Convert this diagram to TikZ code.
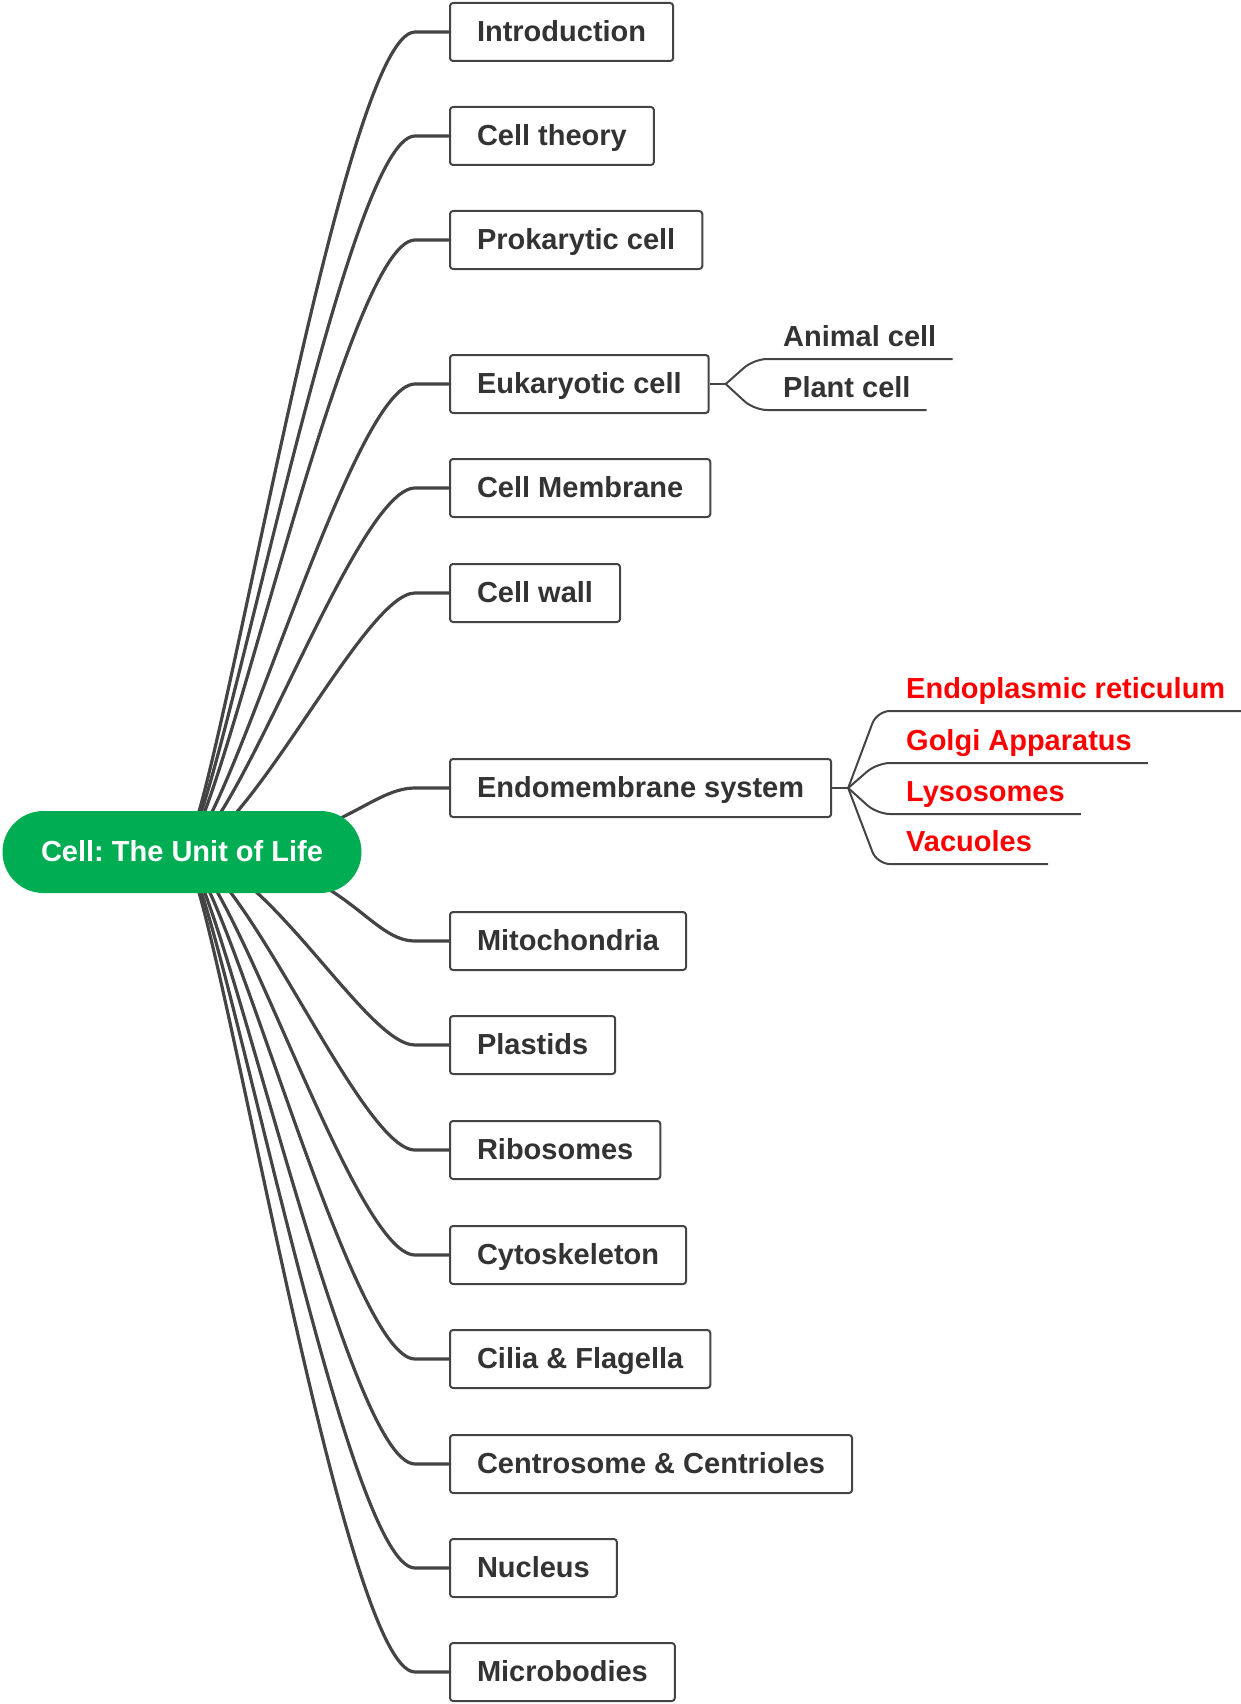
\documentclass[tikz,border=0pt]{standalone}
\usepackage{fontspec}
\setmainfont{Liberation Sans}
\usepackage{tikz}
\usetikzlibrary{positioning}
\definecolor{pillgreen}{RGB}{0,173,83}
\definecolor{linegray}{RGB}{68,68,68}
\definecolor{textgray}{RGB}{51,51,51}
\definecolor{hotred}{RGB}{255,0,0}
\pgfdeclarelayer{back}
\pgfsetlayers{back,main}
\frenchspacing

\begin{document}
\begin{tikzpicture}[x=1pt, y=1pt,
font=\fontsize{29}{34}\selectfont\bfseries,
rootnode/.style={rectangle, rounded corners=41pt, fill=pillgreen, text=white, minimum width=359pt, minimum height=82pt, inner sep=0pt, text height=22pt, text depth=3pt},
topic/.style={rectangle, rounded corners=3pt, draw=linegray, line width=2pt, fill=white, text=textgray, minimum height=58pt, inner xsep=27pt, inner ysep=0pt, text height=22pt, text depth=3pt, anchor=west},
leaf/.style={inner xsep=16pt, inner ysep=0pt, text depth=12pt, anchor=south west, text=textgray},
redleaf/.style={leaf, text=hotred},
branch/.style={draw=linegray, line width=3.2pt},
twig/.style={draw=linegray, line width=2pt, rounded corners=13pt},
]
\useasboundingbox (0,0) rectangle (1240,-1704);

%Nodes
\node[rootnode] (root) at (182,-852) {Cell: The Unit of Life};
\node[topic]    (intro)  at (449,-32)                            {Introduction};
\node[topic]    (theory) [below=104pt of intro.west, anchor=west]  {Cell theory};
\node[topic]    (prok)   [below=104pt of theory.west, anchor=west] {Prokarytic cell};
\node[topic]    (euk)    [below=144pt of prok.west, anchor=west]   {Eukaryotic cell};
\node[topic]    (memb)   [below=104pt of euk.west, anchor=west]    {Cell Membrane};
\node[topic]    (wall)   [below=105pt of memb.west, anchor=west]   {Cell wall};
\node[topic]    (endo)   [below=195pt of wall.west, anchor=west]   {Endomembrane system};
\node[topic]    (mito)   [below=153pt of endo.west, anchor=west]   {Mitochondria};
\node[topic]    (plast)  [below=104pt of mito.west, anchor=west]   {Plastids};
\node[topic]    (ribo)   [below=105pt of plast.west, anchor=west]  {Ribosomes};
\node[topic]    (cyto)   [below=105pt of ribo.west, anchor=west]   {Cytoskeleton};
\node[topic]    (cilia)  [below=104pt of cyto.west, anchor=west]   {Cilia \& Flagella};
\node[topic]    (centro) [below=105pt of cilia.west, anchor=west]  {Centrosome \& Centrioles};
\node[topic]    (nucl)   [below=104pt of centro.west, anchor=west] {Nucleus};
\node[topic]    (micro)  [below=104pt of nucl.west, anchor=west]   {Microbodies};

\coordinate[right=16pt of euk] (eukhub);
\node[leaf]     (animal) at (767,-359) {Animal cell};
\node[leaf]     (plant)  at (767,-410) {Plant cell};

\coordinate[right=16pt of endo] (endohub);
\node[redleaf]  (er)     at (890,-711) {Endoplasmic reticulum};
\node[redleaf]  (golgi)  at (890,-763) {Golgi Apparatus};
\node[redleaf]  (lyso)   at (890,-814) {Lysosomes};
\node[redleaf]  (vacu)   at (890,-864) {Vacuoles};

%Lines
\begin{pgfonlayer}{back}
\draw[branch] (root.center) .. controls +(30,0) and +(-75,0) .. ([xshift=-34pt]intro.west) -- (intro.west);
\draw[branch] (root.center) .. controls +(32,0) and +(-72,0) .. ([xshift=-34pt]theory.west) -- (theory.west);
\draw[branch] (root.center) .. controls +(35,0) and +(-70,0) .. ([xshift=-34pt]prok.west) -- (prok.west);
\draw[branch] (root.center) .. controls +(42,0) and +(-65,0) .. ([xshift=-34pt]euk.west) -- (euk.west);
\draw[branch] (root.center) .. controls +(50,0) and +(-60,0) .. ([xshift=-34pt]memb.west) -- (memb.west);
\draw[branch] (root.center) .. controls +(62,0) and +(-52,0) .. ([xshift=-34pt]wall.west) -- (wall.west);
\draw[branch] (root.center) .. controls +(150,0) and +(-48,0) .. ([xshift=-34pt]endo.west) -- (endo.west);
\draw[branch] (root.center) .. controls +(160,0) and +(-50,0) .. ([xshift=-34pt]mito.west) -- (mito.west);
\draw[branch] (root.center) .. controls +(80,0) and +(-50,0) .. ([xshift=-34pt]plast.west) -- (plast.west);
\draw[branch] (root.center) .. controls +(58,0) and +(-55,0) .. ([xshift=-34pt]ribo.west) -- (ribo.west);
\draw[branch] (root.center) .. controls +(47,0) and +(-62,0) .. ([xshift=-34pt]cyto.west) -- (cyto.west);
\draw[branch] (root.center) .. controls +(40,0) and +(-66,0) .. ([xshift=-34pt]cilia.west) -- (cilia.west);
\draw[branch] (root.center) .. controls +(35,0) and +(-70,0) .. ([xshift=-34pt]centro.west) -- (centro.west);
\draw[branch] (root.center) .. controls +(32,0) and +(-72,0) .. ([xshift=-34pt]nucl.west) -- (nucl.west);
\draw[branch] (root.center) .. controls +(30,0) and +(-75,0) .. ([xshift=-34pt]micro.west) -- (micro.west);
\end{pgfonlayer}

\draw[twig] (euk.east) -- (eukhub);
\draw[twig] (eukhub) -- ([xshift=-13pt]animal.south west) -- (animal.south east);
\draw[twig] (eukhub) -- ([xshift=-13pt]plant.south west) -- (plant.south east);

\draw[twig] (endo.east) -- (endohub);
\draw[twig] (endohub) -- ([xshift=-13pt]er.south west) -- (er.south east);
\draw[twig] (endohub) -- ([xshift=-13pt]golgi.south west) -- (golgi.south east);
\draw[twig] (endohub) -- ([xshift=-13pt]lyso.south west) -- (lyso.south east);
\draw[twig] (endohub) -- ([xshift=-13pt]vacu.south west) -- (vacu.south east);
\end{tikzpicture}
\end{document}
